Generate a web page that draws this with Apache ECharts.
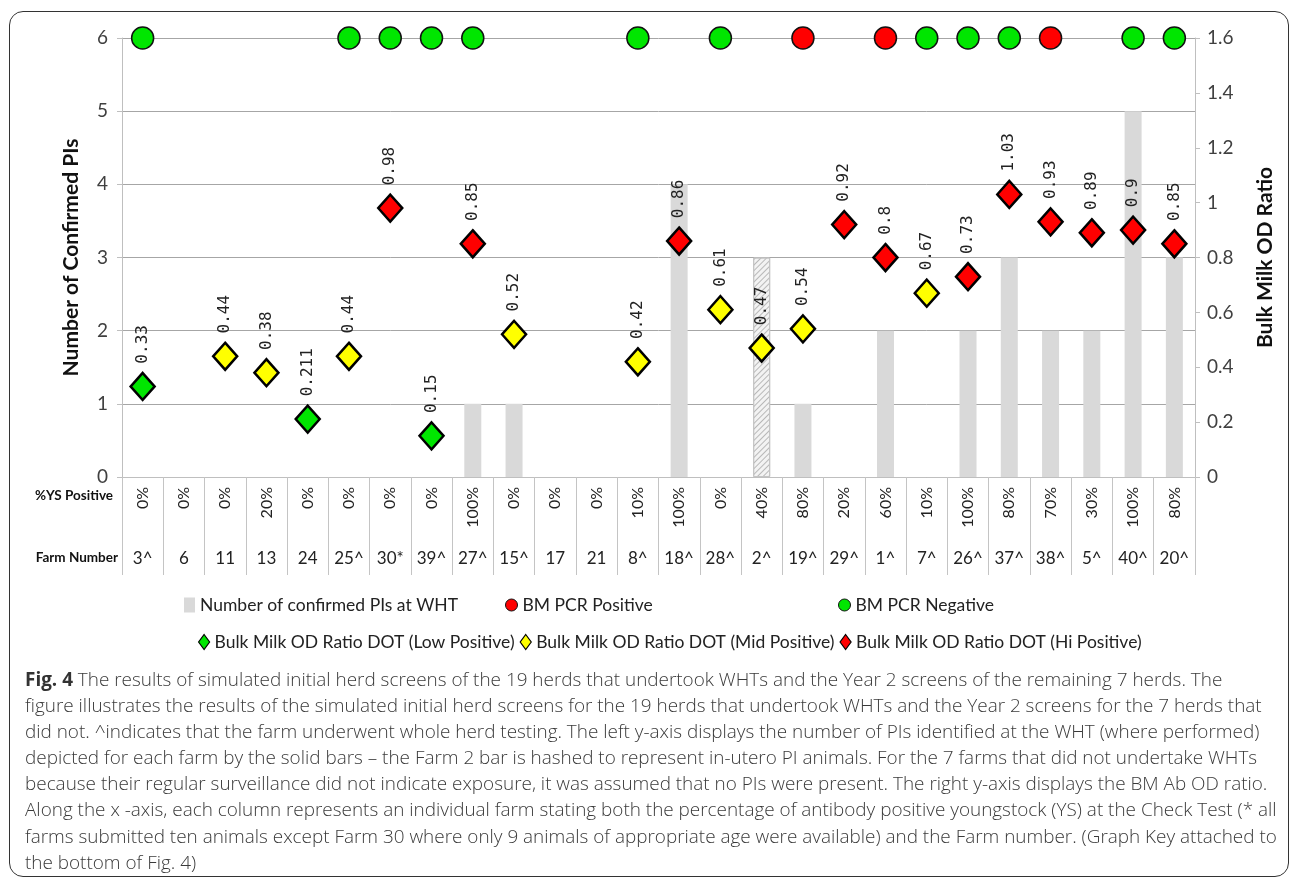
<!DOCTYPE html>
<html>
<head>
<meta charset="utf-8">
<script src="https://cdn.jsdelivr.net/npm/echarts@6/dist/echarts.min.js"></script>
<style>
  html, body { margin: 0; padding: 0; background: #fff; }
  #wrap { position: relative; width: 1292px; height: 881px; overflow: hidden; }
  #chart { position: absolute; left: 0; top: 0; width: 1292px; height: 881px; }
  #box { position: absolute; left: 9px; top: 11px; width: 1278px; height: 864px;
         border: 1.5px solid #333; border-radius: 14px; pointer-events: none; }
  #caption { position: absolute; left: 25px; top: 666px; font-family: "Open Sans", sans-serif;
             font-weight: 300; color: #3a3a3a; font-size: 17px; line-height: 26.1px; white-space: nowrap; }
  #caption div { width: max-content; }
  #caption b { font-weight: 700; color: #333; }
</style>
</head>
<body>
<div id="wrap">
  <div id="chart"></div>
  <div id="box"></div>
  <div id="caption">
    <div><b>Fig. 4</b> The results of simulated initial herd screens of the 19 herds that undertook WHTs and the Year 2 screens of the remaining 7 herds. The</div>
    <div>figure illustrates the results of the simulated initial herd screens for the 19 herds that undertook WHTs and the Year 2 screens for the 7 herds that</div>
    <div>did not. ^indicates that the farm underwent whole herd testing. The left y-axis displays the number of PIs identified at the WHT (where performed)</div>
    <div>depicted for each farm by the solid bars – the Farm 2 bar is hashed to represent in-utero PI animals. For the 7 farms that did not undertake WHTs</div>
    <div>because their regular surveillance did not indicate exposure, it was assumed that no PIs were present. The right y-axis displays the BM Ab OD ratio.</div>
    <div>Along the x -axis, each column represents an individual farm stating both the percentage of antibody positive youngstock (YS) at the Check Test (* all</div>
    <div>farms submitted ten animals except Farm 30 where only 9 animals of appropriate age were available) and the Farm number. (Graph Key attached to</div>
    <div>the bottom of Fig. 4)</div>
  </div>
</div>
<script>
// ---------------- data ----------------
const farms = ['3^','6','11','13','24','25^','30*','39^','27^','15^','17','21','8^','18^','28^','2^','19^','29^','1^','7^','26^','37^','38^','5^','40^','20^'];
const ysPositive = ['0%','0%','0%','20%','0%','0%','0%','0%','100%','0%','0%','0%','10%','100%','0%','40%','80%','20%','60%','10%','100%','80%','70%','30%','100%','80%'];
const piCounts = [0,0,0,0,0,0,0,0,1,1,0,0,0,4,0,3,1,0,2,0,2,3,2,2,5,3];
const hashedFarm = '2^';
const odRatio = [0.33,null,0.44,0.38,0.211,0.44,0.98,0.15,0.85,0.52,null,null,0.42,0.86,0.61,0.47,0.54,0.92,0.8,0.67,0.73,1.03,0.93,0.89,0.9,0.85];
const odLevel = ['Low',null,'Mid','Mid','Low','Mid','Hi','Low','Hi','Mid',null,null,'Mid','Hi','Mid','Mid','Mid','Hi','Hi','Mid','Hi','Hi','Hi','Hi','Hi','Hi'];
const pcrResult = ['Neg',null,null,null,null,'Neg','Neg','Neg','Neg',null,null,null,'Neg',null,'Neg',null,'Pos',null,'Pos','Neg','Neg','Neg','Pos',null,'Neg','Neg'];
const pcrMarkerValue = 1.6;   // PCR result markers sit on the top line of the OD axis
const leftAxisRange = [0, 6, 1];
const rightAxisRange = [0, 1.6, 0.2];

// ---------------- styles ----------------
const GREEN = '#00e600', YELLOW = '#ffff00', RED = '#ff0000', BAR = '#d9d9d9';
const levelColor = { Low: GREEN, Mid: YELLOW, Hi: RED };
const levelName = {
  Low: 'Bulk Milk OD Ratio DOT (Low Positive)',
  Mid: 'Bulk Milk OD Ratio DOT (Mid Positive)',
  Hi: 'Bulk Milk OD Ratio DOT (Hi Positive)'
};
const BAR_NAME = 'Number of confirmed PIs at WHT';

const chart = echarts.init(document.getElementById('chart'));

const barData = piCounts.map((v, i) => {
  if (farms[i] === hashedFarm) {
    return {
      value: v,
      itemStyle: {
        color: '#f3f3f3', borderColor: '#c4c4c4', borderWidth: 1,
        decal: { symbol: 'rect', symbolSize: 1, dashArrayX: [[1, 0]], dashArrayY: [1, 3],
                 rotation: -Math.PI / 4, color: '#b8b8b8' }
      }
    };
  }
  return v;
});

function pcrSeries(kind, name, color) {
  return {
    name, type: 'scatter', xAxisIndex: 0, yAxisIndex: 1, clip: false, z: 5,
    symbol: 'circle', symbolSize: 22,
    itemStyle: { color, borderColor: '#111', borderWidth: 1.5, opacity: 1 },
    data: pcrResult.map(r => r === kind ? pcrMarkerValue : '-')
  };
}

function odSeries(level) {
  return {
    name: levelName[level], type: 'scatter', xAxisIndex: 0, yAxisIndex: 1, clip: false, z: 6,
    symbol: 'diamond', symbolSize: [24, 27],
    itemStyle: { color: levelColor[level], borderColor: '#000', borderWidth: 2.5, opacity: 1 },
    label: {
      show: true, position: 'top', distance: 8, rotate: 90, align: 'left', verticalAlign: 'middle',
      fontFamily: 'DejaVu Sans Mono', fontSize: 16, color: '#222',
      formatter: p => String(p.value)
    },
    data: odRatio.map((v, i) => (odLevel[i] === level ? v : '-'))
  };
}

const legendText = { fontFamily: 'Lato', fontSize: 17.5, color: '#222' };

const option = {
  animation: false,
  backgroundColor: '#fff',
  grid: { left: 122, right: 97, top: 38, bottom: 404, containLabel: false },
  legend: [
    { data: [{ name: BAR_NAME, icon: 'rect' }], left: 184, top: 596, padding: 0, itemWidth: 11, itemHeight: 15,
      selectedMode: false, textStyle: legendText },
    { data: [{ name: 'BM PCR Positive', icon: 'circle' }], left: 505, top: 596, padding: 0, itemWidth: 12, itemHeight: 15,
      selectedMode: false, textStyle: legendText, itemStyle: { borderWidth: 1 } },
    { data: [{ name: 'BM PCR Negative', icon: 'circle' }], left: 838, top: 596, padding: 0, itemWidth: 12, itemHeight: 15,
      selectedMode: false, textStyle: legendText, itemStyle: { borderWidth: 1 } },
    { data: [levelName.Low, levelName.Mid, levelName.Hi].map(n => ({ name: n, icon: 'diamond' })),
      left: 198, top: 633, padding: 0, itemGap: 5, itemWidth: 11, itemHeight: 15,
      selectedMode: false, textStyle: legendText, itemStyle: { borderWidth: 1.2 } }
  ],
  xAxis: [
    {
      type: 'category', data: ysPositive, position: 'bottom', boundaryGap: true,
      axisLine: { show: true, lineStyle: { color: '#bfbfbf', width: 1 } },
      axisTick: { show: true, interval: 0, length: 98, lineStyle: { color: '#c4c4c4', width: 1 } },
      axisLabel: { interval: 0, rotate: 90, margin: 10, fontFamily: 'Lato', fontSize: 16, color: '#222' },
      splitLine: { show: false }
    },
    {
      type: 'category', data: farms, position: 'bottom', boundaryGap: true,
      axisLine: { show: false }, axisTick: { show: false },
      axisLabel: { interval: 0, margin: 73, fontFamily: 'Lato', fontSize: 17, color: '#222' },
      splitLine: { show: false }
    }
  ],
  yAxis: [
    {
      type: 'value', position: 'left', min: leftAxisRange[0], max: leftAxisRange[1], interval: leftAxisRange[2],
      name: 'Number of Confirmed PIs', nameLocation: 'middle', nameGap: 40, nameRotate: 90,
      nameTextStyle: { fontFamily: 'Lato', fontWeight: 'bold', fontSize: 21, color: '#111' },
      axisLine: { show: true, lineStyle: { color: '#bfbfbf' } },
      axisTick: { show: true, length: 5, lineStyle: { color: '#bfbfbf' } },
      axisLabel: { margin: 14, fontFamily: 'Lato', fontSize: 19, color: '#404040' },
      splitLine: { show: true, lineStyle: { color: '#a6a6a6', width: 1 } }
    },
    {
      type: 'value', position: 'right', min: rightAxisRange[0], max: rightAxisRange[1], interval: rightAxisRange[2],
      name: 'Bulk Milk OD Ratio', nameLocation: 'middle', nameGap: 60, nameRotate: 90,
      nameTextStyle: { fontFamily: 'Lato', fontWeight: 'bold', fontSize: 21, color: '#111' },
      axisLine: { show: true, lineStyle: { color: '#bfbfbf' } },
      axisTick: { show: true, length: 5, lineStyle: { color: '#bfbfbf' } },
      axisLabel: { margin: 12, fontFamily: 'Lato', fontSize: 19, color: '#404040' },
      splitLine: { show: false }
    }
  ],
  graphic: [
    { type: 'text', right: 1292 - 113, top: 489,
      style: { text: '%YS Positive', fontFamily: 'Lato', fontWeight: 'bold', fontSize: 13.5, fill: '#111', align: 'right' } },
    { type: 'text', right: 1292 - 118, top: 551,
      style: { text: 'Farm Number', fontFamily: 'Lato', fontWeight: 'bold', fontSize: 13.5, fill: '#111', align: 'right' } }
  ],
  series: [
    { name: BAR_NAME, type: 'bar', xAxisIndex: 0, yAxisIndex: 0, barWidth: 17, z: 2,
      itemStyle: { color: BAR }, data: barData },
    pcrSeries('Pos', 'BM PCR Positive', RED),
    pcrSeries('Neg', 'BM PCR Negative', GREEN),
    odSeries('Low'), odSeries('Mid'), odSeries('Hi')
  ]
};
chart.setOption(option);

// fit caption so its widest line spans the reference text width
(function fitCaption() {
  const cap = document.getElementById('caption');
  const lines = cap.querySelectorAll('div');
  let maxW = 0;
  lines.forEach(d => { maxW = Math.max(maxW, d.getBoundingClientRect().width); });
  const target = 1252;
  if (maxW > 0) {
    const fs = parseFloat(getComputedStyle(cap).fontSize);
    cap.style.fontSize = (fs * target / maxW).toFixed(2) + 'px';
  }
})();
</script>
</body>
</html>
